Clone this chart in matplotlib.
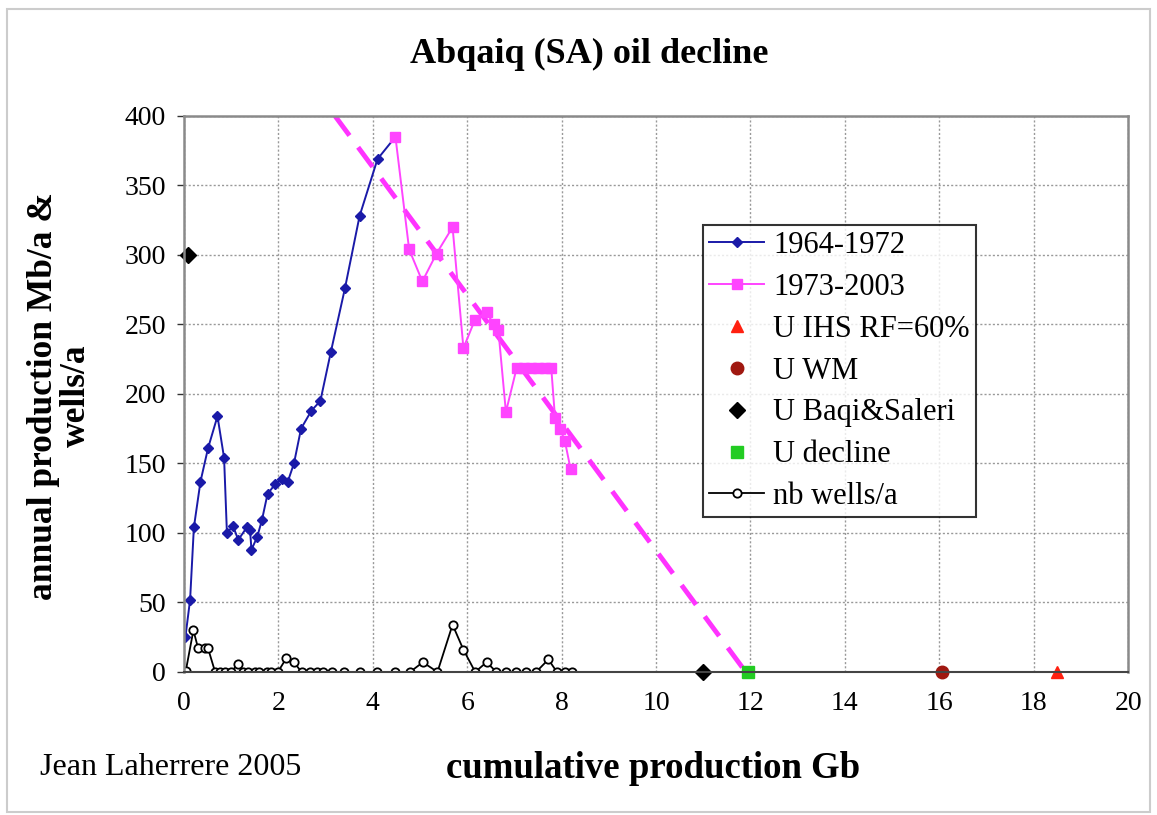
import matplotlib.pyplot as plt
from matplotlib.patches import Rectangle

plt.rcParams['font.family'] = ['Liberation Serif', 'DejaVu Serif']

# 1964-1972 : cumulative production (Gb) vs annual production (Mb/a)
cum_6472 = [0.03, 0.13, 0.21, 0.35, 0.51, 0.71, 0.85, 0.91, 1.04, 1.15, 1.33, 1.40,
            1.43, 1.55, 1.65, 1.77, 1.93, 2.07, 2.20, 2.33, 2.48, 2.70, 2.89, 3.11,
            3.41, 3.72, 4.10, 4.48]
prod_6472 = [25, 52, 104, 137, 161, 184, 154, 100, 105, 95, 104, 102,
             88, 97, 109, 128, 135, 139, 137, 150, 175, 188, 195, 230,
             276, 328, 369, 385]

# 1973-2003
cum_7303 = [4.48, 4.77, 5.05, 5.35, 5.69, 5.92, 6.16, 6.41, 6.56, 6.66, 6.82,
            7.05, 7.20, 7.35, 7.50, 7.65, 7.78, 7.86, 7.97, 8.07, 8.19]
prod_7303 = [385, 304, 281, 301, 320, 233, 253, 259, 250, 246, 187,
             219, 219, 219, 219, 219, 219, 183, 175, 166, 146]

# decline trend line end points
trend_x = [3.2, 11.9]
trend_y = [400, 0]

# number of wells drilled per year
cum_wells = [0.04, 0.20, 0.30, 0.44, 0.51, 0.66, 0.76, 0.87, 1.00, 1.15, 1.26, 1.36,
             1.50, 1.60, 1.75, 1.85, 1.99, 2.17, 2.33, 2.49, 2.67, 2.81, 2.95, 3.13,
             3.38, 3.73, 4.08, 4.47, 4.79, 5.06, 5.37, 5.69, 5.92, 6.17, 6.41, 6.62,
             6.83, 7.04, 7.25, 7.46, 7.72, 7.90, 8.07, 8.21]
wells = [1, 30, 17, 17, 17, 0, 0, 0, 0, 6, 0, 0,
         0, 0, 0, 0, 0, 10, 7, 0, 0, 0, 0, 0,
         0, 0, 0, 0, 0, 7, 0, 34, 16, 0, 7, 0,
         0, 0, 0, 0, 9, 0, 0, 0]

# ultimate recovery estimates (Gb)
u_ihs = [18.5]
u_wm = [16.05]
u_baqi_x = [0.08, 11.0]
u_baqi_y = [300, 0]
u_decline = [11.95]

fig, ax = plt.subplots(figsize=(11.57, 8.15), dpi=100)
fig.subplots_adjust(left=0.159, right=0.975, bottom=0.1755, top=0.8577)

ax.plot(trend_x, trend_y, color='#ff33ff', lw=3.5, dashes=(5, 3), label='_nolegend_')
ax.plot(cum_6472, prod_6472, color='#1a1aa8', lw=1.4, marker='D', ms=5.5,
        label='1964-1972')
ax.plot(cum_7303, prod_7303, color='#ff44ff', lw=1.4, marker='s', ms=6.5,
        label='1973-2003')
ax.plot(u_ihs, [0], ls='none', marker='^', ms=9, color='#ff2010', clip_on=False,
        label='U IHS RF=60%')
ax.plot(u_wm, [0], ls='none', marker='o', ms=9, color='#a01810', clip_on=False,
        label='U WM')
ax.plot(u_baqi_x, u_baqi_y, ls='none', marker='D', ms=8, color='black',
        clip_on=False, label='U Baqi&Saleri')
ax.plot(u_decline, [0], ls='none', marker='s', ms=9, color='#22cc22', clip_on=False,
        label='U decline')
ax.plot(cum_wells, wells, color='black', lw=1.3, marker='o', ms=6,
        mfc='white', mec='black', mew=1.3, label='nb wells/a')

ax.set_xlim(0, 20)
ax.set_ylim(0, 400)
ax.set_xticks(range(0, 21, 2))
ax.set_yticks(range(0, 401, 50))
ax.tick_params(labelsize=20, length=5, width=1, colors='#333333', labelcolor='black', pad=8)
ax.tick_params(axis='x', length=0, pad=14)
ax.grid(True, color='#999999', ls=(0, (1.5, 1.5)), lw=1)
for side in ['top', 'right', 'left']:
    ax.spines[side].set_color('#8a8a8a')
    ax.spines[side].set_linewidth(1.8)
ax.spines['bottom'].set_color('#444444')
ax.spines['bottom'].set_linewidth(1.5)

# titles placed in figure coordinates
fig.text(0.509, 0.933, 'Abqaiq (SA) oil decline', fontsize=26, fontweight='bold',
         ha='center', va='center')
fig.text(0.5645, 0.057, 'cumulative production Gb', fontsize=26.5, fontweight='bold',
         ha='center', va='center')
fig.text(0.052, 0.514, 'annual production Mb/a &\nwells/a', fontsize=25.5,
         fontweight='bold', rotation=90, ha='center', va='center',
         multialignment='center', linespacing=1.0)
fig.text(0.035, 0.058, 'Jean Laherrere 2005', fontsize=23, va='center')

leg = ax.legend(loc='upper left', bbox_to_anchor=(0.5498, 0.804), fontsize=22,
                frameon=True, fancybox=False, edgecolor='black', borderpad=0.2,
                labelspacing=0.42, handlelength=1.8, handletextpad=0.3,
                borderaxespad=0)
leg.get_frame().set_linewidth(1.5)

fig.patches.append(Rectangle((0.006, 0.004), 0.988, 0.985, transform=fig.transFigure,
                             fill=False, edgecolor='#cccccc', lw=1.5))

plt.savefig('out.png')
